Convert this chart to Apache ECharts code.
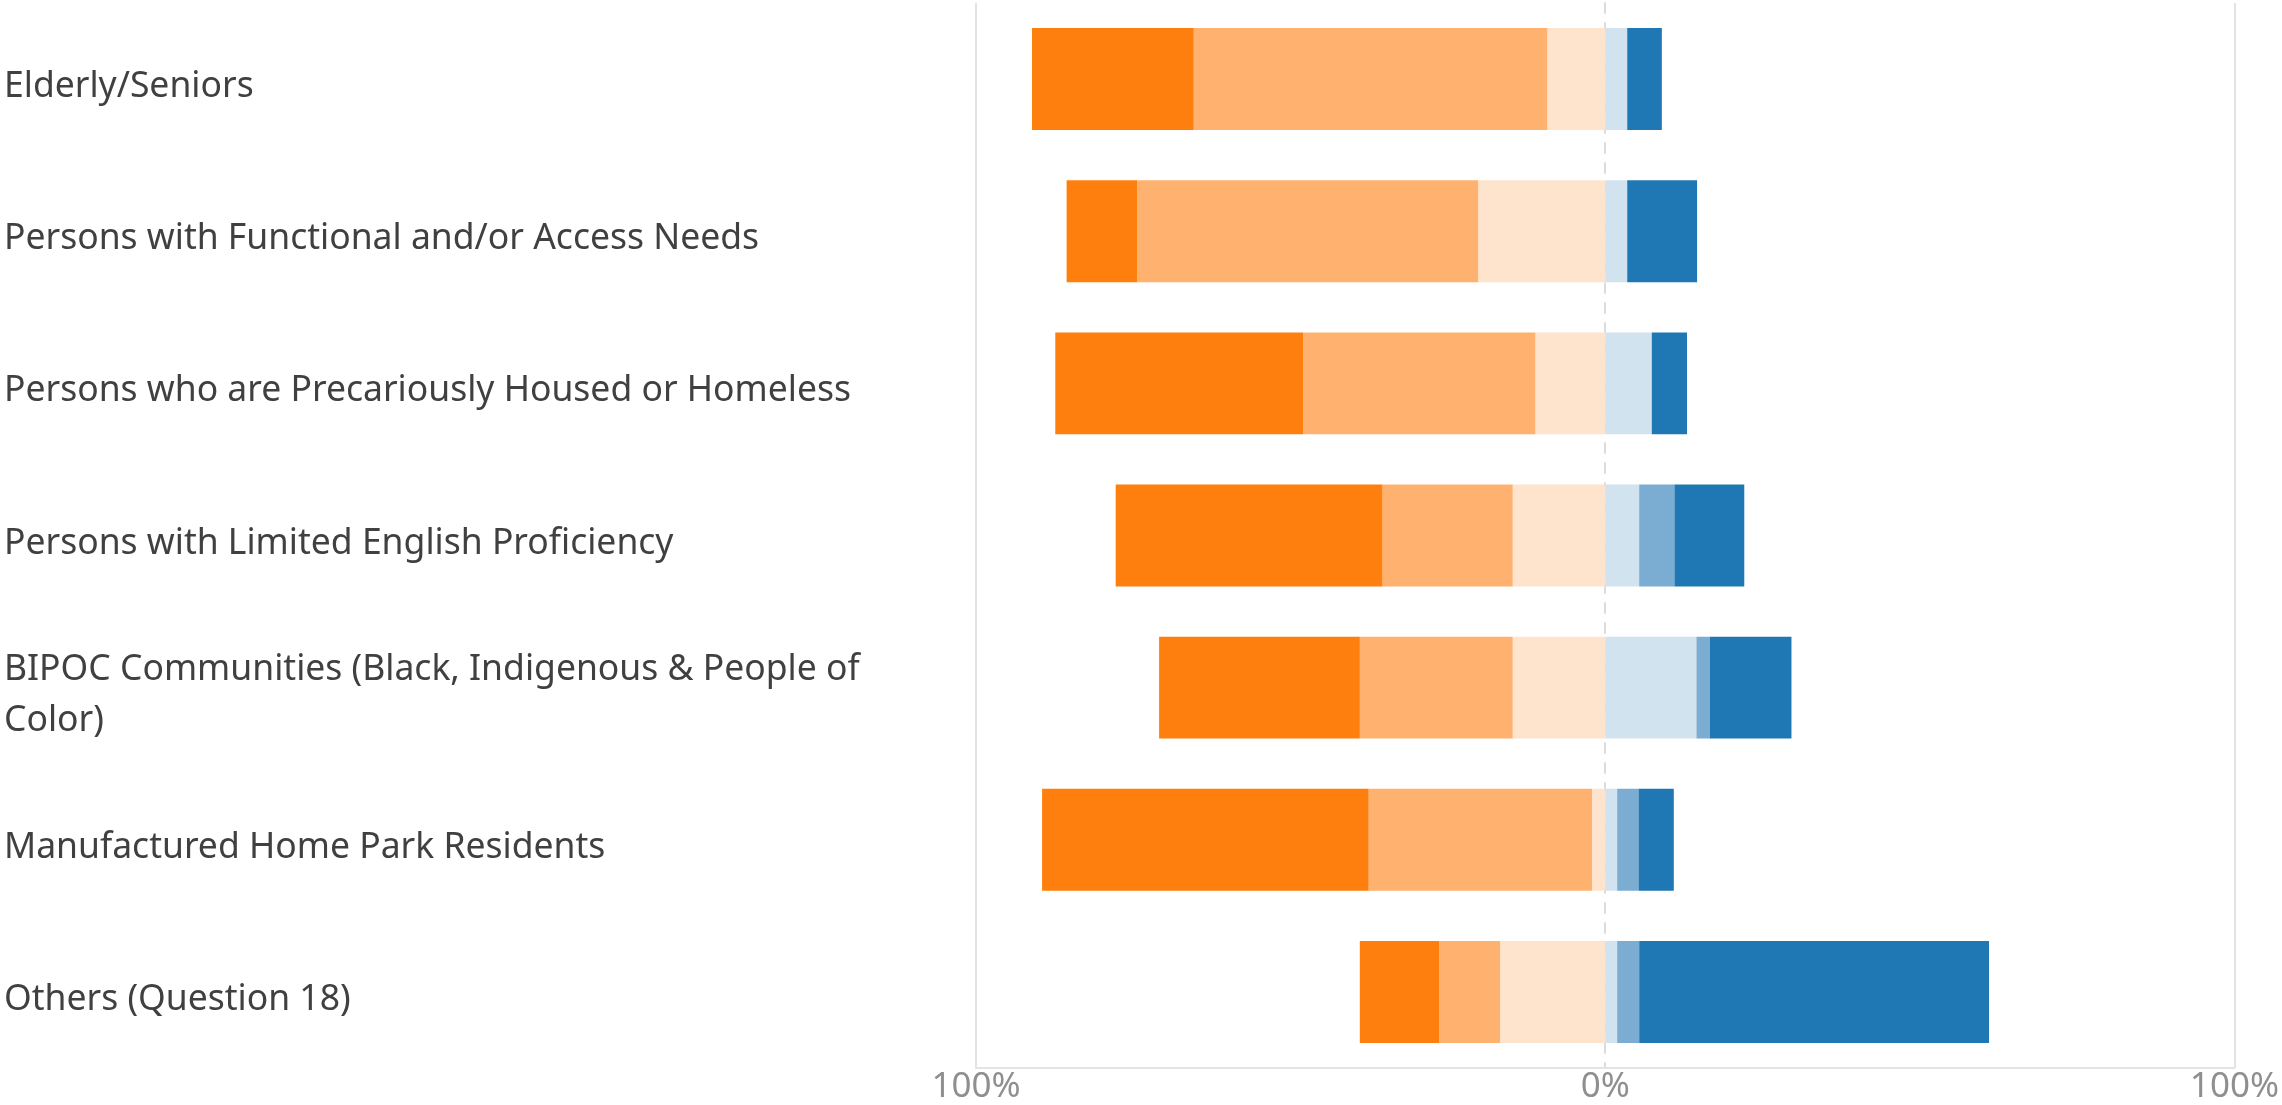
<!DOCTYPE html>
<html>
<head>
<meta charset="utf-8">
<script src="https://cdn.jsdelivr.net/npm/echarts@6/dist/echarts.min.js"></script>
<style>
html,body{margin:0;padding:0;background:#fff;}
#chart{width:2282px;height:1105px;}
</style>
</head>
<body>
<div id="chart"></div>
<script>
const categories = [
  "Elderly/Seniors",
  "Persons with Functional and/or Access Needs",
  "Persons who are Precariously Housed or Homeless",
  "Persons with Limited English Proficiency",
  "BIPOC Communities (Black, Indigenous & People of Color)",
  "Manufactured Home Park Residents",
  "Others (Question 18)"
];
// Left (negative) side, percent of responses
const darkOrange  = [25.7, 11.2, 39.4, 42.4, 31.9, 51.9, 12.6];
const midOrange   = [56.2, 54.2, 36.9, 20.7, 24.3, 35.5, 9.7];
const lightOrange = [9.2, 20.2, 11.1, 14.7, 14.7, 2.1, 16.7];
// Right (positive) side
const lightBlue   = [3.5, 3.5, 7.4, 5.4, 14.5, 1.9, 1.9];
const midBlue     = [0, 0, 0, 5.6, 2.1, 3.4, 3.5];
const darkBlue    = [5.5, 11.1, 5.6, 11.1, 13.0, 5.6, 55.6];
const tickLabels  = ["100%", "0%", "100%"];

const neg = a => a.map(v => -v);
const mk = (name, data, color) => ({
  name, type: 'bar', stack: 'total', data,
  barCategoryGap: '33%',
  itemStyle: { color },
  emphasis: { disabled: true }
});

const chart = echarts.init(document.getElementById('chart'), null, { renderer: 'canvas' });
chart.setOption({
  animation: false,
  grid: { left: 976, right: 45, top: 3, bottom: 33, containLabel: false },
  xAxis: {
    type: 'value', min: -100, max: 100, interval: 100,
    axisLine: { show: true, lineStyle: { color: '#e3e3e3', width: 2 } },
    axisTick: { show: false },
    splitLine: { show: true, lineStyle: { color: ['#e3e3e3', 'rgba(0,0,0,0)', '#e3e3e3'], width: 2 } },
    axisLabel: {
      margin: 2,
      fontFamily: 'Noto Sans', fontSize: 35, color: '#8f8f8f',
      formatter: (v, i) => tickLabels[i]
    }
  },
  yAxis: {
    type: 'category', data: categories, inverse: true,
    axisLine: { show: true, onZero: true, lineStyle: { color: '#dcdcdc', width: 2, type: [10, 10] } },
    axisTick: { show: false },
    axisLabel: {
      align: 'left', margin: 972,
      fontFamily: 'Noto Sans', fontSize: 35.5, color: '#404040',
      width: 900, overflow: 'break', lineHeight: 51,
      formatter: v => '{t|' + v + '}',
      rich: {
        t: {
          fontFamily: 'Noto Sans', fontSize: 35.5, color: '#404040',
          lineHeight: 51, padding: [16, 0, 0, 0]
        }
      }
    }
  },
  series: [
    mk('Response 3', neg(lightOrange), '#ffe4cd'),
    mk('Response 2', neg(midOrange), '#ffb26f'),
    mk('Response 1', neg(darkOrange), '#ff7f0e'),
    mk('Response 4', lightBlue, '#d2e3f0'),
    mk('Response 5', midBlue, '#7badd3'),
    mk('Response 6', darkBlue, '#1f77b4')
  ]
});
</script>
</body>
</html>
